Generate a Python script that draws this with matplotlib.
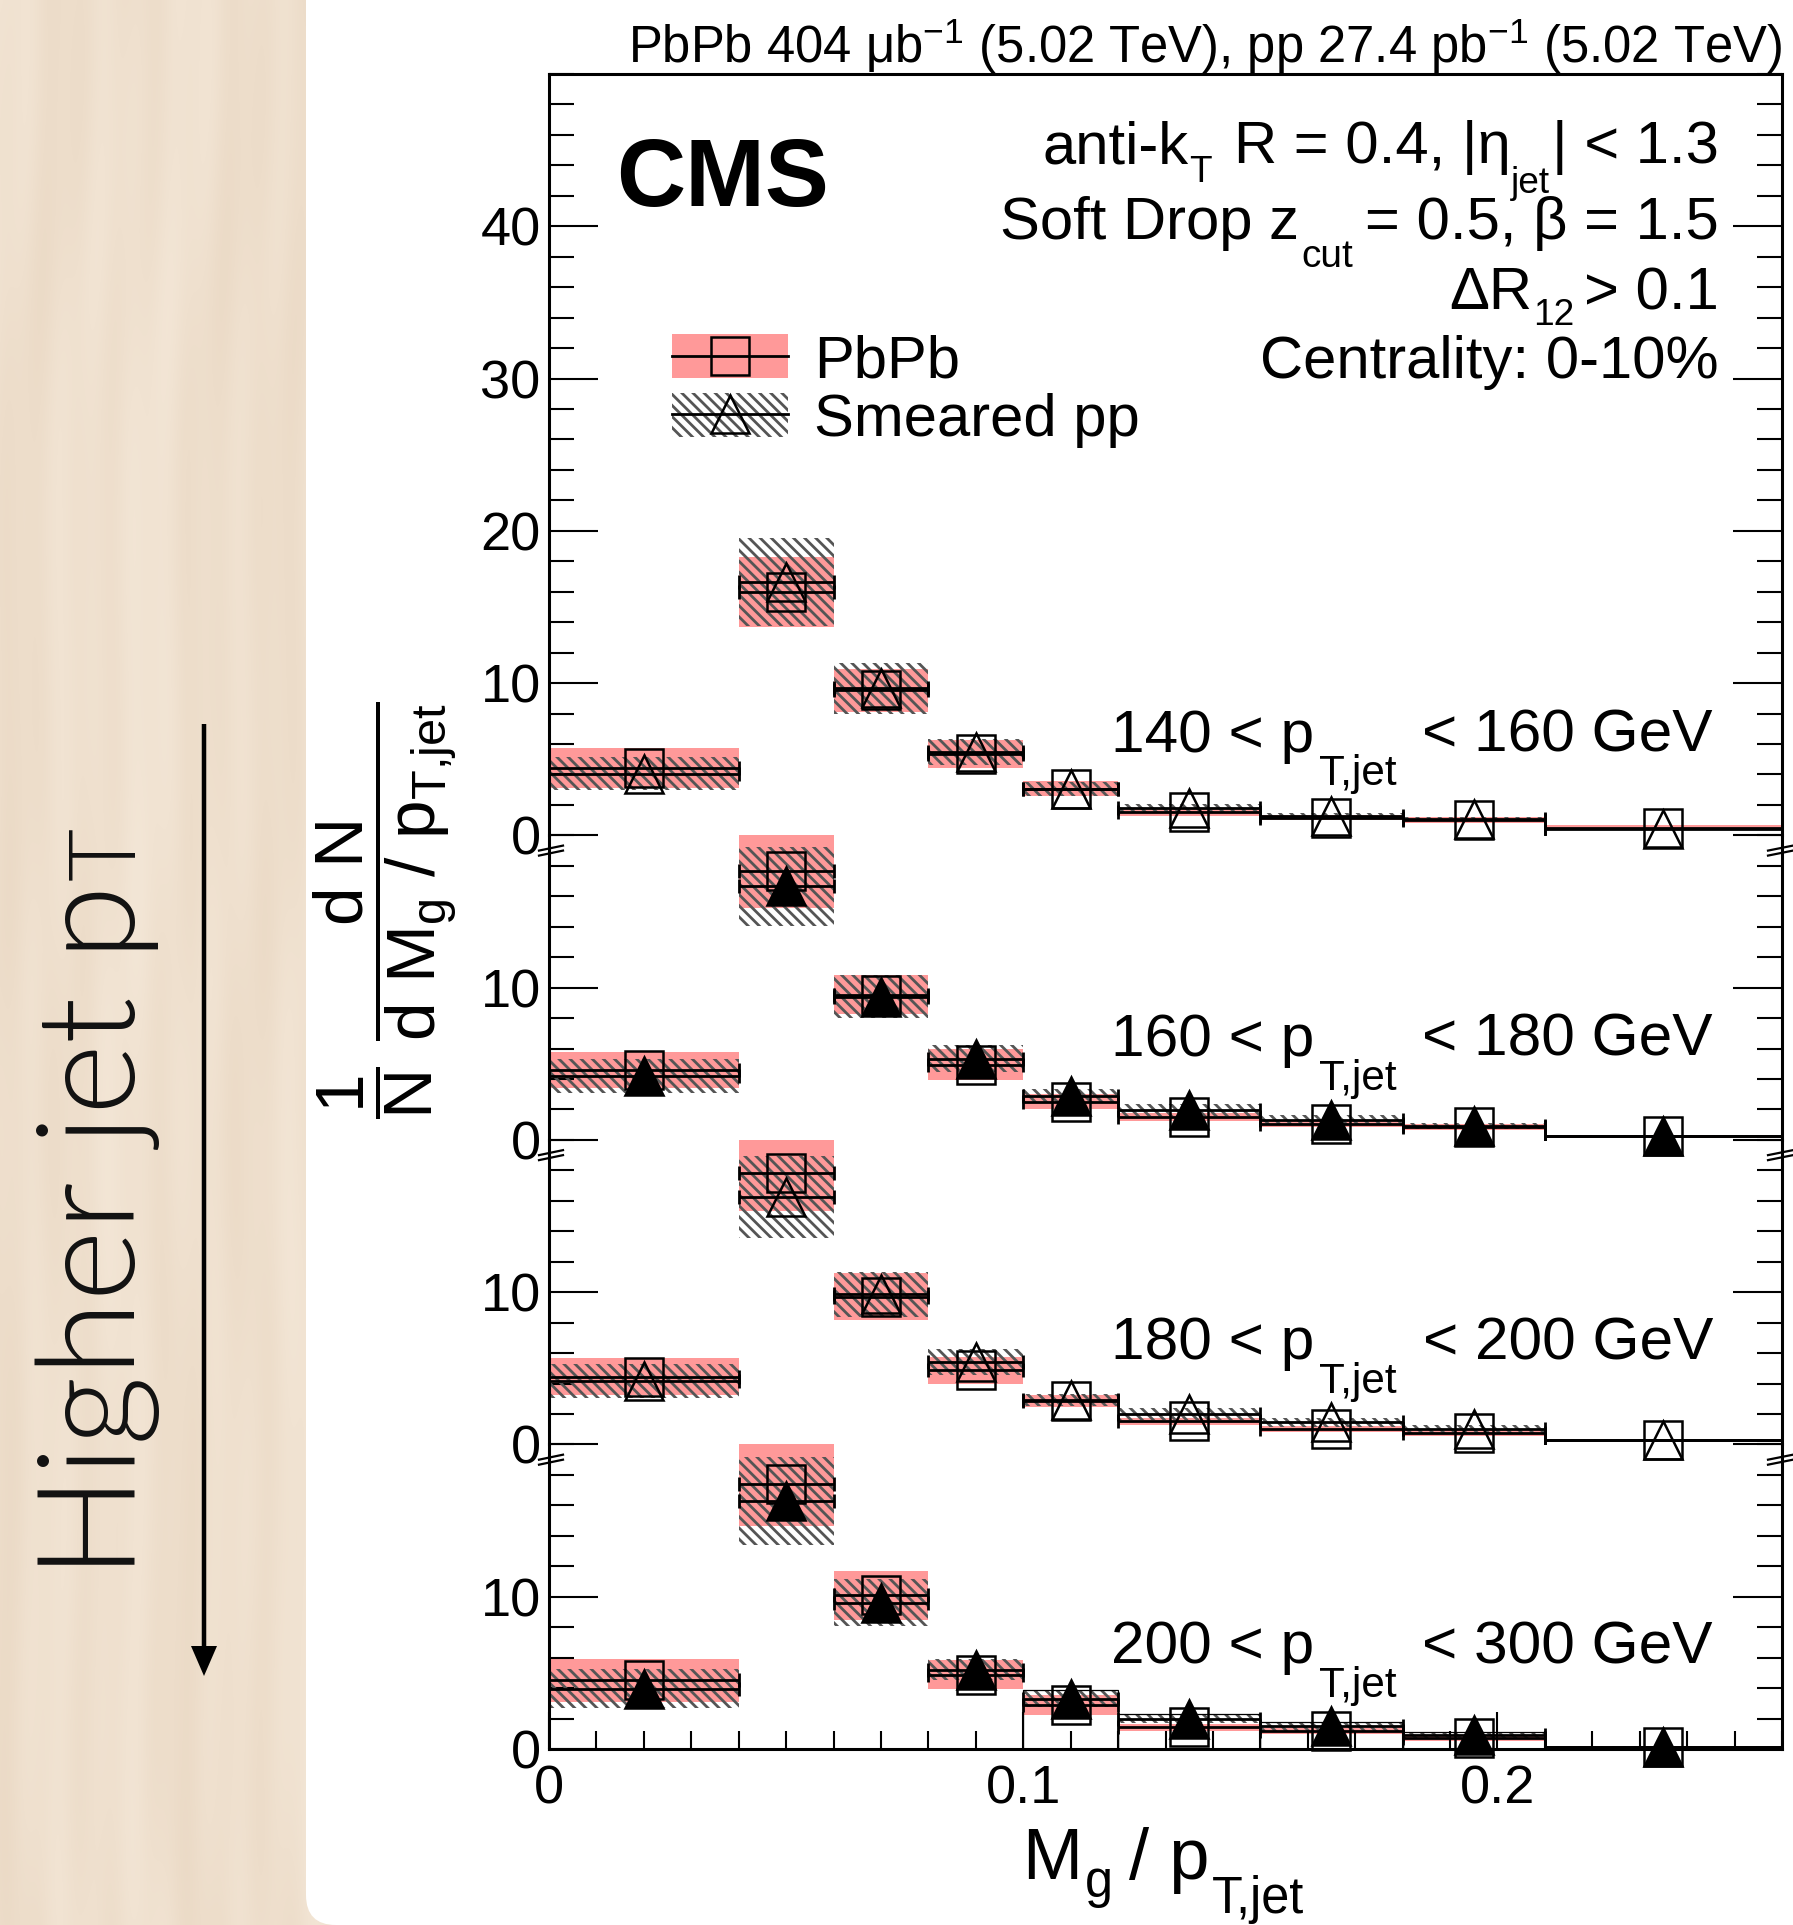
import numpy as np
import matplotlib
matplotlib.use("Agg")
import matplotlib.pyplot as plt
from matplotlib.patches import Patch, FancyBboxPatch, FancyArrow
from matplotlib.lines import Line2D
from matplotlib.legend_handler import HandlerTuple
from matplotlib.ticker import FixedLocator, FixedFormatter, MultipleLocator
from matplotlib.transforms import IdentityTransform

# ---------------- data ----------------
bin_edges = [0.0, 0.04, 0.06, 0.08, 0.10, 0.12, 0.15, 0.18, 0.21, 0.26]

pbpb_140 = [4.42, 16.0, 9.52, 5.34, 3.07, 1.54, 1.17, 1.02, 0.50]
pbpb_140_sys = [1.30, 2.30, 1.40, 0.93, 0.50, 0.25, 0.17, 0.18, 0.15]
pp_140 = [4.05, 16.65, 9.65, 5.47, 3.03, 1.77, 1.27, 1.07, 0.42]
pp_140_sys = [1.10, 2.90, 1.65, 0.85, 0.45, 0.27, 0.17, 0.15, 0.08]

pbpb_160 = [4.58, 17.65, 9.54, 4.95, 2.50, 1.50, 1.06, 0.86, 0.25]
pbpb_160_sys = [1.20, 2.40, 1.30, 1.00, 0.50, 0.27, 0.20, 0.18, 0.10]
pp_160 = [4.20, 16.65, 9.40, 5.33, 2.90, 1.95, 1.30, 0.90, 0.27]
pp_160_sys = [1.10, 2.60, 1.40, 0.90, 0.45, 0.38, 0.32, 0.20, 0.08]

pbpb_180 = [4.45, 17.85, 9.70, 4.87, 2.84, 1.53, 0.99, 0.77, 0.29]
pbpb_180_sys = [1.22, 2.50, 1.55, 0.90, 0.40, 0.22, 0.20, 0.20, 0.10]
pp_180 = [4.15, 16.25, 9.85, 5.41, 2.92, 2.00, 1.45, 1.02, 0.29]
pp_180_sys = [1.13, 2.70, 1.45, 0.85, 0.42, 0.38, 0.30, 0.24, 0.05]

pbpb_200 = [4.50, 17.40, 10.10, 4.87, 2.87, 1.42, 1.17, 0.72, 0.15]
pbpb_200_sys = [1.43, 2.75, 1.60, 0.95, 0.65, 0.25, 0.18, 0.17, 0.05]
pp_200 = [3.95, 16.30, 9.60, 5.20, 3.30, 2.00, 1.50, 0.90, 0.15]
pp_200_sys = [1.28, 2.90, 1.55, 0.70, 0.55, 0.30, 0.30, 0.20, 0.05]

pt_low = ["140", "160", "180", "200"]
pt_high = ["160", "180", "200", "300"]
pp_filled = [False, True, False, True]

xtick_major = [0.0, 0.1, 0.2]
xtick_labels = ["0", "0.1", "0.2"]
ytick_top = [0, 10, 20, 30, 40]
ytick_top_labels = ["0", "10", "20", "30", "40"]
ytick_low = [0, 10]
ytick_low_labels = ["0", "10"]

legend_labels = ["PbPb", "Smeared pp"]

# ---------------- style ----------------
plt.rcParams['font.family'] = ['Liberation Sans', 'DejaVu Sans']
plt.rcParams['mathtext.fontset'] = 'custom'
plt.rcParams['mathtext.rm'] = 'Liberation Sans'
plt.rcParams['mathtext.it'] = 'Liberation Sans'
plt.rcParams['mathtext.sf'] = 'Liberation Sans'
plt.rcParams['mathtext.bf'] = 'Liberation Sans:bold'
plt.rcParams['hatch.linewidth'] = 2.0
plt.rcParams['hatch.color'] = '#555555'

PINK = '#ff9999'
HATCH_COL = '#555555'
HATCH = '\\\\\\'

W, H = 1793, 1925
DPI = 100
fig = plt.figure(figsize=(W / DPI, H / DPI), dpi=DPI)
fig.patch.set_facecolor('white')
renderer = fig.canvas.get_renderer()


def rich_text(x, y_from_top, segs, ha='left', size=43, **kw):
    """Draw text made of pieces (string, scale, drop_px, gap_px) with ROOT-like
    lowered subscripts; positions in output pixels."""
    items = []
    for s, sc, drop, gap in segs:
        t = fig.text(0, 0, s, transform=IdentityTransform(), fontsize=size * sc,
                     ha='left', va='baseline', **kw)
        items.append((t, t.get_window_extent(renderer).width, drop, gap))
    total = sum(w + g for _, w, _, g in items)
    x0 = x - total if ha == 'right' else (x - total / 2 if ha == 'center' else x)
    yb = H - y_from_top
    for t, wdt, drop, gap in items:
        x0 += gap
        t.set_position((x0, yb - drop))
        x0 += wdt


# ---------------- decorative background (pixel coordinates) ----------------
bg = fig.add_axes([0, 0, 1, 1], zorder=-10)
yy, xx = np.mgrid[0:H:2, 0:340:1].astype(float)
t = (0.40 * np.sin(xx * 0.071 + 2.4 * np.sin(yy * 0.0023) + 0.9 * np.sin(yy * 0.0093 + 0.4))
     + 0.30 * np.sin(xx * 0.029 + 1.7 * np.sin(yy * 0.0013 + 1.0) + 0.5 * np.sin(yy * 0.0051))
     + 0.20 * np.sin(xx * 0.173 + 1.1 * np.sin(yy * 0.0041 + 2.0))
     + 0.10 * np.sin(yy * 0.0027 + xx * 0.011))
w = 0.5 + 0.5 * t
base = np.array([243, 230, 214]) / 255.0
dark = np.array([235, 218, 198]) / 255.0
wood = base[None, None, :] + (dark - base)[None, None, :] * w[..., None]
bg.imshow(np.clip(wood, 0, 1), extent=[0, 340, 0, H], origin='lower',
          aspect='auto', interpolation='bilinear')
bg.add_patch(FancyBboxPatch((306, 0), 3000, 3000,
                            boxstyle='round,pad=0,rounding_size=30',
                            fc='white', ec='none'))
bg.set_xlim(0, W)
bg.set_ylim(0, H)
bg.axis('off')

# Higher jet pT + arrow
txt_kw = dict(rotation=90, rotation_mode='anchor', ha='left', va='baseline',
              color='#111111', family=['Lato', 'DejaVu Sans'], weight=300)
t1 = bg.text(135, H - 1578, 'Higher jet p', fontsize=98, **txt_kw)
bb = t1.get_window_extent(renderer)
bg.text(135, bb.y1 + 4, 'T', fontsize=66, **txt_kw)
bg.add_patch(FancyArrow(204, H - 724, 0, -(1676 - 724), width=4.5, head_width=26,
                        head_length=30, length_includes_head=True,
                        color='black', lw=0))

# ---------------- panels ----------------
edges = np.array(bin_edges)
centers = 0.5 * (edges[:-1] + edges[1:])
widths = np.diff(edges)

panels = [
    (pbpb_140, pbpb_140_sys, pp_140, pp_140_sys),
    (pbpb_160, pbpb_160_sys, pp_160, pp_160_sys),
    (pbpb_180, pbpb_180_sys, pp_180, pp_180_sys),
    (pbpb_200, pbpb_200_sys, pp_200, pp_200_sys),
]

left, right = 549 / W, 1782 / W
bottom, top = 1 - 1749 / H, 1 - 74 / H
gs = fig.add_gridspec(4, 1, height_ratios=[50, 20, 20, 20], hspace=0,
                      left=left, right=right, bottom=bottom, top=top)
axes = [fig.add_subplot(gs[i]) for i in range(4)]
panel_zero_px = [837.5, 1142, 1445, 1749]

for i, ax in enumerate(axes):
    pb, pbs, pp, pps = [np.array(a) for a in panels[i]]
    ax.set_facecolor('none')
    ax.bar(centers, 2 * pbs, bottom=pb - pbs, width=widths, color=PINK,
           linewidth=0, zorder=1)
    ax.bar(centers, 2 * pps, bottom=pp - pps, width=widths, fill=False,
           hatch=HATCH, edgecolor=HATCH_COL, linewidth=0, zorder=2)
    if i == 3:
        sl = slice(4, 8)
        ax.bar(centers[sl], (pp + pps)[sl], width=widths[sl], fill=False,
               edgecolor='black', linewidth=0.9, zorder=2.5)
    for vals in (pb, pp):
        ax.errorbar(centers, vals, xerr=widths / 2, fmt='none', ecolor='black',
                    elinewidth=2.0, capsize=4.7, capthick=2.0, zorder=3)
    ax.plot(centers, pb, ls='none', marker='s', ms=28, mfc='none', mec='black',
            mew=1.8, zorder=4, clip_on=False)
    ax.plot(centers, pp, ls='none', marker='^', ms=28,
            mfc='black' if pp_filled[i] else 'none', mec='black', mew=1.8,
            zorder=5, clip_on=False)

    ax.set_xlim(0, 0.26)
    if i == 0:
        ax.set_ylim(0, 50)
        ax.yaxis.set_major_locator(FixedLocator(ytick_top))
        ax.yaxis.set_major_formatter(FixedFormatter(ytick_top_labels))
    else:
        ax.set_ylim(0, 20)
        ax.yaxis.set_major_locator(FixedLocator(ytick_low))
        ax.yaxis.set_major_formatter(FixedFormatter(ytick_low_labels))
    ax.yaxis.set_minor_locator(MultipleLocator(2))
    ax.tick_params(axis='y', which='both', direction='in', left=True, right=True,
                   labelsize=39, width=1.5, pad=6)
    ax.tick_params(axis='y', which='major', length=35)
    ax.tick_params(axis='y', which='minor', length=18)

    for s in ('left', 'right', 'top', 'bottom'):
        ax.spines[s].set_linewidth(2.2)
    ax.spines['top'].set_visible(i == 0)
    ax.spines['bottom'].set_visible(i == 3)

    if i == 3:
        ax.xaxis.set_major_locator(FixedLocator(xtick_major))
        ax.xaxis.set_major_formatter(FixedFormatter(xtick_labels))
        ax.xaxis.set_minor_locator(MultipleLocator(0.01))
        ax.tick_params(axis='x', which='both', direction='in', bottom=True,
                       top=False, labelsize=39, width=1.5, pad=11)
        ax.tick_params(axis='x', which='major', length=27)
        ax.tick_params(axis='x', which='minor', length=13)
    else:
        ax.tick_params(axis='x', which='both', bottom=False, top=False,
                       labelbottom=False)

    # panel label (pT bin), baseline ~85 px above the panel zero
    rich_text(1713, panel_zero_px[i] - 86,
              [(pt_low[i] + " < p", 1.0, 0, 0), ("T,jet", 0.7, 34, 5),
               ("< " + pt_high[i] + " GeV", 1.0, 0, 26)], ha='right', size=43.5)

    # axis break marks
    if i > 0:
        hp = 304.5
        wp = 1233.0
        yc = 19.0 / 20.0
        for xc, (a, b) in ((0.0, (-10, 14)), (1.0, (-14, 11))):
            for off in (-2.5, 2.5):
                ax.plot([xc + a / wp, xc + b / wp],
                        [yc + (off - 2.5) / hp, yc + (off + 2.5) / hp],
                        transform=ax.transAxes, color='black', lw=1.6,
                        clip_on=False, zorder=7)

# ---------------- texts ----------------
fig.text(1782 / W, 1 - 63 / H,
         r"PbPb 404 $\mu$b$^{-1}$ (5.02 TeV), pp 27.4 pb$^{-1}$ (5.02 TeV)",
         ha='right', va='baseline', fontsize=36.5)
fig.text(616 / W, 1 - 206 / H, "CMS", ha='left', va='baseline',
         fontsize=69, fontweight='bold')

rich_text(1719, 163, [("anti-k", 1.0, 0, 0), ("T", 0.62, 19, 1),
                      ("R = 0.4, |\u03b7", 1.0, 0, 22), ("jet", 0.62, 30, 0),
                      ("| < 1.3", 1.0, 0, 2)], ha='right', size=43)
rich_text(1719, 239, [("Soft Drop z", 1.0, 0, 0), ("cut", 0.65, 28, 2),
                      ("= 0.5, \u03b2 = 1.5", 1.0, 0, 12)], ha='right', size=43)
rich_text(1719, 309, [("\u0394R", 1.0, 0, 0), ("12", 0.62, 16, 1),
                      ("> 0.1", 1.0, 0, 10)], ha='right', size=43)
rich_text(1719, 378, [("Centrality: 0-10%", 1.0, 0, 0)], ha='right', size=43)

# x-axis title
rich_text(1163, 1879, [("M", 1.0, 0, 0), ("g", 0.7, 18, 3),
                       ("/ p", 1.0, 0, 16), ("T,jet", 0.7, 34, 2)],
          ha='center', size=52)

# y-axis title
fig.text(385 / W, 1 - 910 / H,
         r"$\dfrac{1}{N}\ \dfrac{d\ N}{d\ M_{g}\ /\ p_{T{,}jet}}$",
         rotation=90, ha='center', va='center', fontsize=50)

# ---------------- legend ----------------
h1 = (Patch(facecolor=PINK, edgecolor='none'),
      Line2D([], [], color='black', lw=2, marker='s', ms=28, mfc='none',
             mec='black', mew=1.8))
h2 = (Patch(facecolor='none', edgecolor=HATCH_COL, hatch=HATCH, lw=0),
      Line2D([], [], color='black', lw=2, marker='^', ms=28, mfc='none',
             mec='black', mew=1.8))
axes[0].legend([h1, h2], legend_labels,
               handler_map={tuple: HandlerTuple(ndivide=1, pad=0)},
               loc='upper left', bbox_to_anchor=(672 / W, 1 - 334 / H),
               bbox_transform=fig.transFigure, frameon=False, fontsize=43,
               handlelength=1.95, handleheight=0.76, handletextpad=0.43,
               labelspacing=0.06, borderpad=0, borderaxespad=0)

fig.savefig("out.png", dpi=DPI, facecolor='white')
